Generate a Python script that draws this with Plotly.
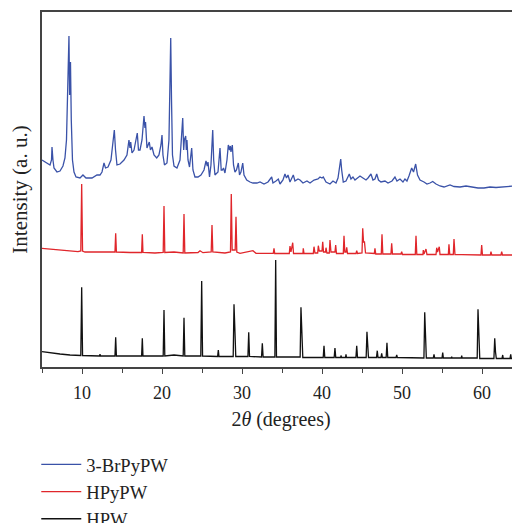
import plotly.graph_objects as go

# ---- data (2θ in degrees, intensity in arbitrary units, traces stacked) ----
SERIES_NAMES = ["3-BrPyPW", "HPyPW", "HPW"]
SERIES_COLORS = ["#3a52a8", "#e0262b", "#111111"]

BRPYPW = [
    (5.00, 207), (5.62, 204), (6.00, 202), (6.19, 207), (6.25, 220), (6.37, 207), (6.50, 199),
    (6.87, 195), (7.25, 196), (7.62, 201), (7.87, 209), (8.06, 227), (8.19, 267), (8.29, 317),
    (8.37, 331), (8.45, 272), (8.56, 305), (8.66, 247), (8.81, 207), (9.00, 195), (9.25, 190),
    (9.75, 189), (10.12, 192), (10.50, 189), (11.25, 189), (11.87, 192), (12.25, 192), (12.50, 195),
    (12.75, 204), (12.94, 199), (13.25, 200), (13.62, 207), (13.87, 222), (14.04, 237), (14.19, 217),
    (14.37, 202), (14.75, 203), (15.25, 207), (15.62, 212), (15.87, 227), (16.00, 219), (16.09, 225),
    (16.25, 214), (16.50, 217), (16.91, 234), (17.06, 217), (17.25, 217), (17.50, 227), (17.75, 251),
    (17.87, 239), (17.94, 245), (18.12, 219), (18.41, 225), (18.56, 217), (18.75, 220), (19.00, 212),
    (19.34, 209), (19.62, 212), (19.87, 222), (20.00, 232), (20.12, 212), (20.31, 202), (20.62, 204),
    (20.87, 227), (21.00, 287), (21.09, 329), (21.19, 267), (21.31, 212), (21.50, 201), (21.87, 199),
    (22.25, 207), (22.59, 249), (22.71, 217), (22.79, 227), (22.96, 231), (23.04, 217), (23.12, 227),
    (23.25, 207), (23.44, 200), (23.71, 219), (23.87, 197), (24.12, 190), (24.50, 190), (24.87, 192),
    (25.25, 197), (25.50, 206), (25.66, 201), (25.75, 205), (25.94, 190), (26.12, 202), (26.34, 237),
    (26.46, 207), (26.62, 192), (27.00, 195), (27.25, 219), (27.40, 197), (27.54, 197), (27.69, 199),
    (27.87, 194), (28.12, 207), (28.29, 222), (28.44, 217), (28.54, 221), (28.62, 215), (28.79, 222),
    (28.94, 202), (29.12, 195), (29.31, 197), (29.54, 204), (29.69, 192), (29.87, 195), (30.09, 204),
    (30.25, 192), (30.59, 187), (31.00, 185), (31.37, 184), (31.87, 184), (32.25, 185), (32.75, 183),
    (33.25, 185), (33.71, 190), (33.87, 184), (34.25, 186), (34.54, 188), (34.75, 183), (35.12, 187),
    (35.37, 193), (35.56, 189), (35.75, 192), (36.00, 185), (36.41, 192), (36.62, 186), (37.00, 188),
    (37.25, 187), (37.62, 184), (38.12, 186), (38.50, 184), (39.00, 187), (39.50, 188), (39.75, 190),
    (40.00, 189), (40.16, 190), (40.50, 185), (41.00, 183), (41.37, 186), (41.75, 184), (42.00, 189),
    (42.21, 202), (42.34, 208), (42.46, 197), (42.66, 185), (43.00, 186), (43.41, 193), (43.62, 188),
    (43.87, 190), (44.12, 187), (44.44, 189), (44.75, 191), (45.12, 189), (45.50, 187), (45.75, 189),
    (46.12, 193), (46.37, 187), (46.62, 188), (46.84, 193), (47.06, 187), (47.37, 185), (47.87, 186),
    (48.25, 184), (48.75, 186), (49.12, 190), (49.37, 186), (49.75, 188), (50.12, 185), (50.37, 188),
    (50.62, 186), (50.87, 191), (51.21, 199), (51.44, 195), (51.71, 203), (51.94, 192), (52.25, 187),
    (52.75, 185), (53.12, 183), (53.50, 184), (53.84, 185.5), (54.25, 183), (54.75, 181), (55.25, 180),
    (55.75, 181), (56.00, 182), (56.50, 180.5), (57.25, 180), (58.00, 181), (58.75, 180), (59.50, 179),
    (60.25, 179), (61.00, 180), (61.75, 179.5), (62.50, 180), (63.25, 181), (64.00, 181), (64.75, 183),
]

HPYPW = [
    (5.00, 118.7), (6.00, 118), (7.25, 117), (8.50, 116), (9.50, 115.3), (9.85, 116), (9.96, 183),
    (10.07, 116), (10.37, 115), (12.25, 115), (13.50, 114.7), (14.12, 115), (14.21, 133.7), (14.30, 115),
    (16.00, 114.5), (17.45, 114.5), (17.54, 132.7), (17.62, 114.5), (19.12, 114), (20.15, 114.5),
    (20.25, 161), (20.35, 114.5), (21.50, 115), (22.65, 114), (22.75, 153), (22.85, 114), (24.50, 114.5),
    (24.75, 116.3), (25.12, 114.3), (26.15, 115), (26.25, 142), (26.35, 115), (27.87, 114), (28.56, 115),
    (28.66, 173), (28.77, 117), (29.15, 117), (29.25, 150.3), (29.35, 115), (29.75, 113.7), (31.37, 116.3),
    (31.75, 113.7), (33.91, 113.7), (34.00, 118.7), (34.09, 113.5), (35.91, 113.5), (36.00, 121),
    (36.12, 115), (36.34, 124.3), (36.44, 113.5), (37.62, 113.5), (37.66, 118.7), (37.75, 113.5),
    (38.91, 113.5), (39.00, 120.3), (39.12, 114), (39.46, 114), (39.54, 121.3), (39.66, 116), (40.00, 116),
    (40.09, 125.3), (40.19, 115), (40.44, 115), (40.50, 119.3), (40.62, 114), (40.91, 114), (41.00, 127),
    (41.12, 115), (41.62, 115), (41.71, 122), (41.81, 113.5), (42.66, 113.5), (42.75, 131.3), (42.85, 115),
    (43.00, 115), (43.09, 119.7), (43.19, 113.5), (44.25, 113.5), (44.34, 116.3), (44.44, 113.5),
    (45.00, 114), (45.09, 138.7), (45.19, 125), (45.31, 125), (45.44, 114), (46.54, 113.5), (46.62, 118.7),
    (46.72, 113), (47.41, 113), (47.50, 132.7), (47.60, 113), (48.62, 113), (48.71, 123.7), (48.81, 113),
    (49.87, 113), (49.96, 115.3), (50.06, 112.5), (51.66, 112.5), (51.75, 131.3), (51.85, 112.5),
    (52.62, 112.5), (52.66, 117), (52.75, 113), (53.00, 118), (53.12, 112.5), (54.25, 112.5),
    (54.34, 119.3), (54.44, 115), (54.66, 120.3), (54.75, 112.5), (55.79, 112.5), (55.87, 122.7),
    (55.97, 112.5), (56.41, 112.5), (56.50, 128), (56.62, 112.5), (57.46, 112.3), (59.87, 112),
    (59.96, 122), (60.06, 112), (61.04, 112), (61.12, 115.3), (61.22, 112), (62.37, 112), (62.46, 115.3),
    (62.56, 112), (64.04, 112), (64.12, 114.3), (64.22, 112), (64.75, 112),
]

HPW = [
    (5.00, 15.3), (6.00, 14), (7.25, 13), (8.50, 12), (9.85, 11.5), (9.96, 79.7), (10.07, 11.5),
    (12.19, 11), (12.25, 12.7), (12.31, 11), (14.12, 11), (14.21, 29.7), (14.30, 11), (17.45, 11),
    (17.54, 28.7), (17.62, 11), (20.15, 11), (20.25, 57), (20.35, 11), (21.50, 12), (22.65, 11),
    (22.75, 49.3), (22.85, 11), (24.85, 11), (24.96, 86), (25.07, 11), (26.95, 10.5), (27.04, 17),
    (27.12, 10.5), (28.90, 10.5), (29.00, 62.7), (29.12, 35.3), (29.22, 10.5), (30.74, 10.5),
    (30.84, 34.7), (30.94, 10.5), (32.44, 10), (32.54, 23.7), (32.64, 10), (34.11, 10), (34.21, 107),
    (34.31, 10), (37.27, 10), (37.37, 59.7), (37.50, 32), (37.60, 9.5), (40.15, 9.5), (40.25, 21.3),
    (40.35, 9.5), (41.52, 9.5), (41.62, 19), (41.72, 9.5), (42.34, 9.5), (42.37, 11.5), (42.44, 9.5),
    (42.94, 9.5), (43.00, 12.7), (43.06, 9.5), (44.24, 9.5), (44.34, 21.3), (44.44, 9.5), (45.52, 9.5),
    (45.62, 35.3), (45.72, 22), (45.81, 9.5), (46.81, 9.5), (46.91, 16.3), (47.00, 9.5), (47.37, 9.5),
    (47.46, 13.7), (47.55, 9.5), (48.02, 9.5), (48.12, 24.3), (48.22, 9.5), (49.25, 9.5), (49.34, 12),
    (49.42, 9.5), (52.74, 9), (52.84, 54.7), (52.94, 32), (53.04, 9), (53.91, 9), (54.00, 12.7),
    (54.09, 9), (55.00, 9), (55.09, 14.3), (55.17, 9), (56.16, 9), (56.21, 10.3), (56.25, 9),
    (57.41, 9), (57.46, 11.3), (57.52, 9), (59.40, 9), (59.50, 57.7), (59.62, 32), (59.72, 8.5),
    (61.49, 8.5), (61.59, 28.7), (61.69, 15), (61.79, 8.5), (62.50, 8.5), (62.59, 12), (62.66, 8.5),
    (63.50, 8.5), (63.59, 12.7), (63.66, 8.5), (64.52, 8.5), (64.62, 20.3), (64.72, 8.5),
]

X_TICKS = [10, 20, 30, 40, 50, 60]
X_TICK_LABELS = ["10", "20", "30", "40", "50", "60"]

FONT = "Liberation Serif"

fig = go.Figure()
for name, color, pts in zip(SERIES_NAMES, SERIES_COLORS, [BRPYPW, HPYPW, HPW]):
    fig.add_trace(go.Scatter(
        x=[p[0] for p in pts], y=[p[1] for p in pts], mode="lines", name=name,
        line=dict(color=color, width=1.3), hoverinfo="skip",
    ))

# the page adds an 8px body margin, so the figure is 8px smaller and shifted
fig.update_layout(
    width=512, height=515,
    margin=dict(l=34, r=0, t=4, b=156, autoexpand=False),
    paper_bgcolor="white", plot_bgcolor="white",
    font=dict(family=FONT, color="#222222", size=18),
    showlegend=True,
    legend=dict(
        x=-0.012, xanchor="left", y=-0.222, yanchor="top",
        orientation="v", font=dict(family=FONT, size=18.6, color="#222222"),
        itemwidth=40, bgcolor="rgba(0,0,0,0)", borderwidth=0,
        traceorder="normal",
    ),
)
fig.update_xaxes(
    range=[5, 64.75], tickvals=X_TICKS, ticktext=X_TICK_LABELS,
    ticks="outside", ticklen=5, tickwidth=1.2, tickcolor="#444444",
    minor=dict(dtick=5, tick0=5, ticks="outside", ticklen=4, tickwidth=1.2, tickcolor="#444444"),
    showline=True, linecolor="#444444", linewidth=1.5, mirror=True,
    showgrid=False, zeroline=False, ticklabelstandoff=4,
    tickfont=dict(family=FONT, size=18, color="#222222"),
    title=dict(text="2<i>θ</i> (degrees)", font=dict(family=FONT, size=20, color="#222222"), standoff=10),
)
fig.update_yaxes(
    range=[0, 355], showticklabels=False, ticks="",
    showline=True, linecolor="#444444", linewidth=1.5, mirror=False,
    showgrid=False, zeroline=False,
    title=dict(text="Intensity (a. u.)", font=dict(family=FONT, size=21, color="#222222"), standoff=8),
)

fig.write_html("out.html")
